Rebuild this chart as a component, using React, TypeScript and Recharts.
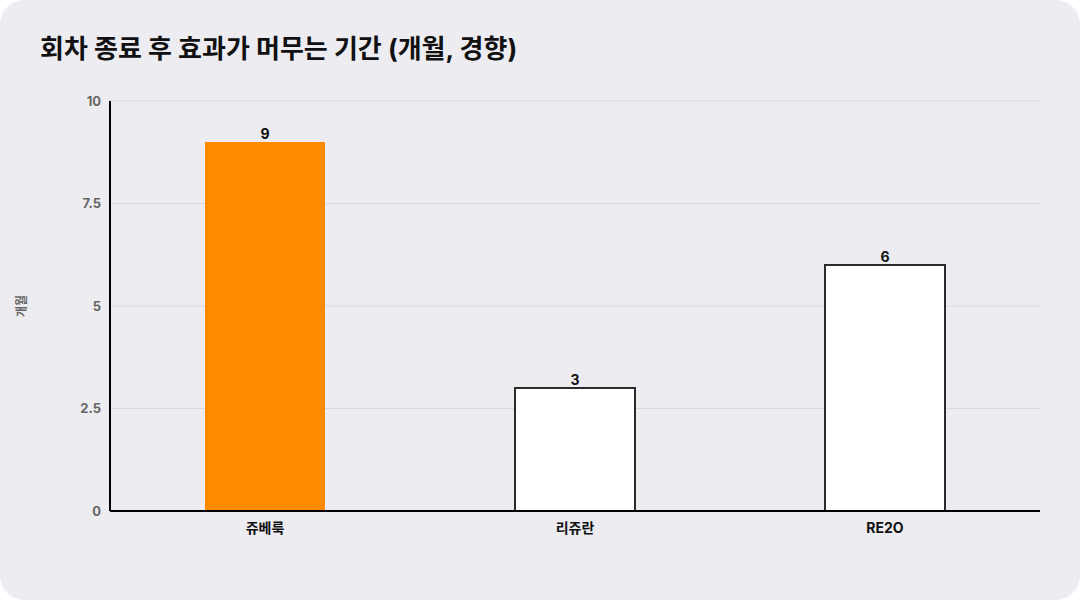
import React from 'react';
import { BarChart, Bar, XAxis, YAxis, CartesianGrid, Cell, LabelList } from 'recharts';

const categories = ['쥬베룩', '리쥬란', 'RE2O'];
const months = [9, 3, 6];
const fills = ['#FF8A00', '#FFFFFF', '#FFFFFF'];
const strokes = ['none', '#2b2b2b', '#2b2b2b'];
const yTicks = [0, 2.5, 5, 7.5, 10];

const data = categories.map((name, i) => ({ name, value: months[i] }));

const FONT = "Inter, 'Noto Sans CJK KR', sans-serif";

export default function App() {
  return (
    <div style={{ position: 'fixed', left: 0, top: 0, width: 1080, height: 600, background: '#ffffff' }}>
      <div style={{ position: 'absolute', left: 0, top: 0, width: 1080, height: 600, background: '#ECECF1', borderRadius: 24, overflow: 'hidden' }}>
        <div style={{ position: 'absolute', left: 40, top: 28, fontFamily: FONT, fontSize: 26, fontWeight: 700, color: '#111111', letterSpacing: 0 }}>
          회차 종료 후 효과가 머무는 기간 (개월, 경향)
        </div>
        <div style={{ position: 'absolute', left: 0, top: 0 }}>
          <BarChart width={1080} height={600} data={data} margin={{ top: 101, right: 40, bottom: 59, left: 0 }} barSize={120}>
            <CartesianGrid vertical={false} stroke="#D9D9DE" strokeWidth={1} />
            <XAxis
              dataKey="name"
              height={30}
              tickLine={false}
              axisLine={{ stroke: '#000000', strokeWidth: 2 }}
              tick={{ fill: '#111111', fontSize: 14, fontWeight: 700, fontFamily: FONT }}
              tickMargin={6}
            />
            <YAxis
              width={110}
              domain={[0, 10]}
              ticks={yTicks}
              tickLine={false}
              axisLine={{ stroke: '#000000', strokeWidth: 2 }}
              tick={{ fill: '#666666', fontSize: 13, fontWeight: 700, fontFamily: FONT }}
              tickMargin={3}
              label={{ value: '개월', angle: -90, position: 'insideLeft', offset: 22, style: { fill: '#666666', fontSize: 12, fontWeight: 700, fontFamily: FONT, textAnchor: 'middle' } }}
            />
            <Bar dataKey="value" isAnimationActive={false} strokeWidth={2}>
              {data.map((d, i) => (
                <Cell key={d.name} fill={fills[i]} stroke={strokes[i]} />
              ))}
              <LabelList dataKey="value" position="top" offset={3} style={{ fill: '#111111', fontSize: 14, fontWeight: 700, fontFamily: FONT }} />
            </Bar>
          </BarChart>
        </div>
      </div>
    </div>
  );
}
